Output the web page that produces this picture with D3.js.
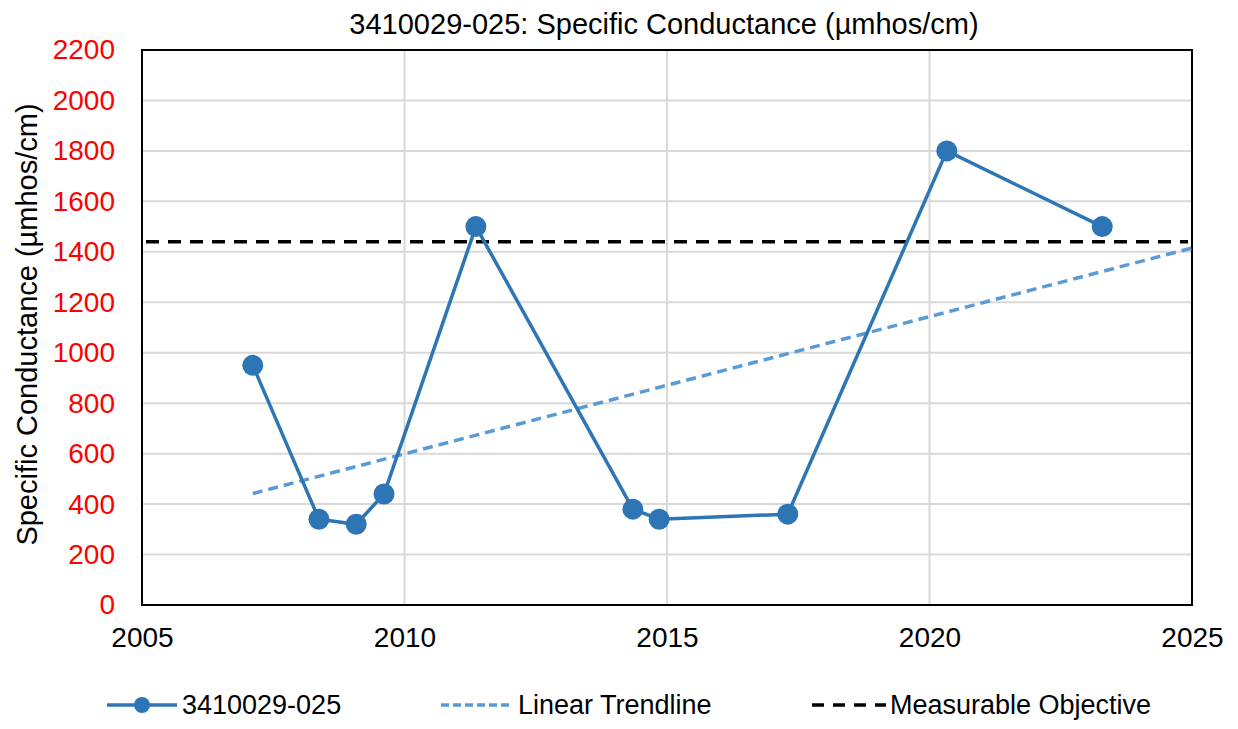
<!DOCTYPE html>
<html>
<head>
<meta charset="utf-8">
<script src="https://cdn.jsdelivr.net/npm/d3@7"></script>
<style>
  body { margin: 0; background: #fff; }
  text { font-family: "Liberation Sans", Arial, sans-serif; }
</style>
</head>
<body>
<script>
// sample dates (decimal years) and readings
var years = [2007.11, 2008.37, 2009.08, 2009.61, 2011.36, 2014.35, 2014.85, 2017.30, 2020.33, 2023.29];
var values = [950, 340, 320, 440, 1500, 380, 340, 360, 1800, 1500];
var objective = 1440;
var xTicks = [2005, 2010, 2015, 2020, 2025];
var yTicks = [0, 200, 400, 600, 800, 1000, 1200, 1400, 1600, 1800, 2000, 2200];
var seriesName = "3410029-025";
var legendNames = [seriesName, "Linear Trendline", "Measurable Objective"];

var W = 1238, H = 729;
var pL = 142, pT = 50, pR = 1192, pB = 605;

var svg = d3.select("body").append("svg")
  .attr("width", W)
  .attr("height", H);

var x = d3.scaleLinear().domain([2005, 2025]).range([pL, pR]);
var y = d3.scaleLinear().domain([0, 2200]).range([pB, pT]);

// gridlines
svg.append("g").selectAll("line").data(yTicks.slice(1))
  .enter().append("line")
  .attr("x1", pL).attr("x2", pR)
  .attr("y1", function(d){ return y(d); }).attr("y2", function(d){ return y(d); })
  .attr("stroke", "#d9d9d9").attr("stroke-width", 2);
svg.append("g").selectAll("line").data(xTicks.slice(1))
  .enter().append("line")
  .attr("x1", function(d){ return x(d); }).attr("x2", function(d){ return x(d); })
  .attr("y1", pT).attr("y2", pB)
  .attr("stroke", "#d9d9d9").attr("stroke-width", 2);

// axes (labels only)
var yAxis = svg.append("g").attr("transform", "translate(" + pL + ",0)")
  .call(d3.axisLeft(y).tickValues(yTicks).tickSize(0).tickPadding(27).tickFormat(d3.format("d")));
yAxis.select(".domain").remove();
yAxis.selectAll("text").attr("fill", "#ff0000").style("font-size", "28px");

var xAxis = svg.append("g").attr("transform", "translate(0," + pB + ")")
  .call(d3.axisBottom(x).tickValues(xTicks).tickSize(0).tickPadding(22).tickFormat(d3.format("d")));
xAxis.select(".domain").remove();
xAxis.selectAll("text").attr("fill", "#000").style("font-size", "28px");

// plot border
svg.append("rect")
  .attr("x", pL).attr("y", pT)
  .attr("width", pR - pL).attr("height", pB - pT)
  .attr("fill", "none").attr("stroke", "#000").attr("stroke-width", 2);

// objective line
svg.append("line")
  .attr("x1", pL + 4).attr("x2", pR - 4)
  .attr("y1", y(objective)).attr("y2", y(objective))
  .attr("stroke", "#000").attr("stroke-width", 3.5)
  .attr("stroke-dasharray", "13,9");

// linear trendline (least squares on the series)
var mx = d3.mean(years), my = d3.mean(values);
var sxy = d3.sum(years, function(d, i){ return (d - mx) * (values[i] - my); });
var sxx = d3.sum(years, function(d){ return (d - mx) * (d - mx); });
var slope = sxy / sxx, icpt = my - slope * mx;
var tx0 = d3.min(years), tx1 = 2025;
svg.append("line")
  .attr("x1", x(tx0)).attr("y1", y(icpt + slope * tx0))
  .attr("x2", x(tx1)).attr("y2", y(icpt + slope * tx1))
  .attr("stroke", "#5b9bd5").attr("stroke-width", 3.5)
  .attr("stroke-dasharray", "10,6");

// series
var pts = years.map(function(d, i){ return [d, values[i]]; });
svg.append("path")
  .datum(pts)
  .attr("fill", "none")
  .attr("stroke", "#2e75b6").attr("stroke-width", 3.5)
  .attr("d", d3.line().x(function(d){ return x(d[0]); }).y(function(d){ return y(d[1]); }));
svg.append("g").selectAll("circle").data(pts)
  .enter().append("circle")
  .attr("cx", function(d){ return x(d[0]); })
  .attr("cy", function(d){ return y(d[1]); })
  .attr("r", 10.5)
  .attr("fill", "#2e75b6");

// title
svg.append("text")
  .attr("x", 664).attr("y", 34)
  .attr("text-anchor", "middle")
  .style("font-size", "29px")
  .text(seriesName + ": Specific Conductance (\u00b5mhos/cm)");

// y axis title
svg.append("text")
  .attr("transform", "translate(37," + ((pT + pB) / 2 - 3) + ") rotate(-90)")
  .attr("text-anchor", "middle")
  .style("font-size", "29px")
  .text("Specific Conductance (\u00b5mhos/cm)");

// legend
var ly = 705;
var lg = svg.append("g");
lg.append("line").attr("x1", 107).attr("x2", 177).attr("y1", ly).attr("y2", ly)
  .attr("stroke", "#2e75b6").attr("stroke-width", 3.5);
lg.append("circle").attr("cx", 142).attr("cy", ly).attr("r", 8).attr("fill", "#2e75b6");
lg.append("line").attr("x1", 441).attr("x2", 513).attr("y1", ly).attr("y2", ly)
  .attr("stroke", "#5b9bd5").attr("stroke-width", 3.5).attr("stroke-dasharray", "8,4");
lg.append("line").attr("x1", 812).attr("x2", 886).attr("y1", ly).attr("y2", ly)
  .attr("stroke", "#000").attr("stroke-width", 3.5).attr("stroke-dasharray", "12,9");
var lx = [182, 518, 890];
lg.selectAll("text").data(legendNames)
  .enter().append("text")
  .attr("x", function(d, i){ return lx[i]; })
  .attr("y", ly + 9)
  .style("font-size", "27px")
  .text(function(d){ return d; });
</script>
</body>
</html>
